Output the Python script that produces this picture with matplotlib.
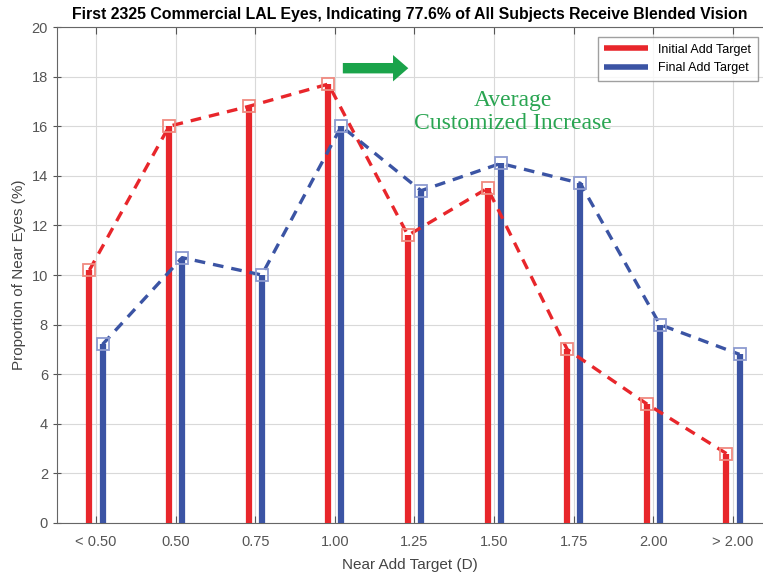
import matplotlib
matplotlib.use("Agg")
import matplotlib.pyplot as plt
import numpy as np

plt.rcParams['font.family'] = ['Liberation Sans', 'DejaVu Sans']

categories = ["< 0.50", "0.50", "0.75", "1.00", "1.25", "1.50", "1.75", "2.00", "> 2.00"]
initial_add = [10.2, 16.0, 16.8, 17.7, 11.6, 13.5, 7.0, 4.8, 2.8]
final_add = [7.2, 10.7, 10.0, 16.0, 13.4, 14.5, 13.7, 8.0, 6.8]

red = "#e8262b"
blue = "#3b54a4"

fig = plt.figure(figsize=(7.63, 5.74), dpi=100)
ax = fig.add_axes([0.0747, 0.0889, 0.9253, 0.864])

x = np.arange(1, len(categories) + 1)
off = 0.082

# stems
ax.vlines(x - off, 0, initial_add, color=red, lw=4.5, label="Initial Add Target", zorder=3)
ax.vlines(x + off, 0, final_add, color=blue, lw=4.5, label="Final Add Target", zorder=3)

# dashed connectors with open squares
ax.plot(x - off, initial_add, color=red, lw=2.4, dashes=(3.2, 2.4), zorder=4)
ax.plot(x + off, final_add, color=blue, lw=2.4, dashes=(3.2, 2.4), zorder=4)
ax.plot(x - off, initial_add, "s", ms=9, mfc="none", mec="#f08a80", mew=1.3, zorder=5)
ax.plot(x + off, final_add, "s", ms=9, mfc="none", mec="#8d9bd0", mew=1.3, zorder=5)

ax.set_xlim(0.51, 9.377)
ax.set_ylim(0, 20)
ax.set_xticks(x)
ax.set_xticklabels(categories)
ax.set_yticks(np.arange(0, 21, 2))
ax.tick_params(direction="in", top=True, right=False, colors="#555555", labelsize=10.5, length=5)
ax.tick_params(axis="x", pad=8.5)
ax.tick_params(axis="y", direction="inout", length=6)
ax.grid(True, color="#d9d9d9", lw=0.8)
ax.set_axisbelow(True)
for s in ax.spines.values():
    s.set_color("#666666")
ax.spines["right"].set_visible(False)

ax.set_xlabel("Near Add Target (D)", fontsize=11, color="#444444", labelpad=7)
ax.set_ylabel("Proportion of Near Eyes (%)", fontsize=11, color="#444444")
ax.set_title("First 2325 Commercial LAL Eyes, Indicating 77.6% of All Subjects Receive Blended Vision",
             fontsize=11.4, fontweight="bold", pad=6)

leg = ax.legend(loc="upper right", fontsize=9, fancybox=False, edgecolor="#888888",
                handlelength=3.5, bbox_to_anchor=(0.993, 0.98), borderaxespad=0,
                borderpad=0.55)
for h in leg.get_lines():
    h.set_linewidth(4)

ax.annotate("", xy=(4.957, 18.34), xytext=(4.065, 18.34),
            arrowprops=dict(arrowstyle="simple,head_length=1.1,head_width=1.9,tail_width=0.75",
                            color="#1aa34a", lw=0))
ax.text(6.24, 16.57, "Average\nCustomized Increase", color="#2aa552", fontsize=17,
        family="Liberation Serif", ha="center", va="center", linespacing=1.15)

fig.savefig("out.png", dpi=100)
